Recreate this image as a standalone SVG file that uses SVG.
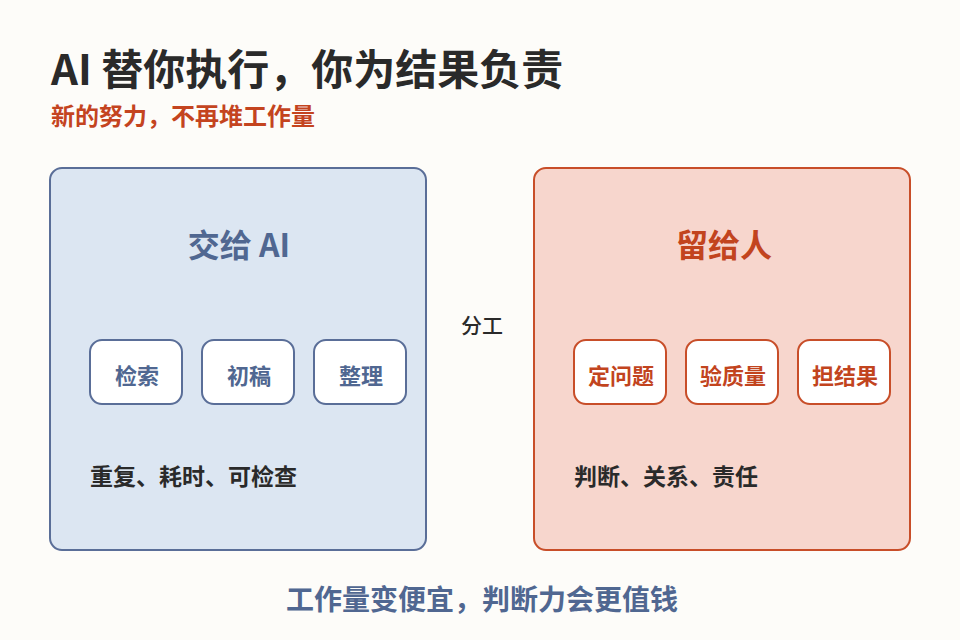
<svg xmlns="http://www.w3.org/2000/svg" width="960" height="640" viewBox="0 0 960 640">
<style>
text{font-family:"Noto Sans CJK SC","Noto Sans",sans-serif;}
.title{font-size:42px;font-weight:700;fill:#2a2a2a;}
.sub{font-size:24px;font-weight:700;fill:#c4441f;}
.panelA{fill:#dce6f2;stroke:#5a6e98;stroke-width:2;}
.panelB{fill:#f7d6cd;stroke:#c84e29;stroke-width:2;}
.itemA{fill:#ffffff;stroke:#5a6e98;stroke-width:2;}
.itemB{fill:#ffffff;stroke:#c84e29;stroke-width:2;}
.hA{font-size:32px;font-weight:700;fill:#506791;text-anchor:middle;}
.hB{font-size:32px;font-weight:700;fill:#c2441e;text-anchor:middle;}
.tA{font-size:22px;font-weight:700;fill:#506791;text-anchor:middle;}
.tB{font-size:22px;font-weight:700;fill:#c2441e;text-anchor:middle;}
.note{font-size:23px;font-weight:700;fill:#2a2a2a;}
.mid{font-size:21px;font-weight:500;fill:#2a2a2a;text-anchor:middle;}
.foot{font-size:28px;font-weight:700;fill:#506791;text-anchor:middle;}
</style>
<rect width="960" height="640" fill="#fdfcf9"/>
<text class="title" x="51" y="85">AI 替你执行，你为结果负责</text>
<text class="sub" x="51" y="125">新的努力，不再堆工作量</text>
<g id="panel-ai">
<rect class="panelA" x="50" y="168" width="376" height="382" rx="12"/>
<text class="hA" x="239" y="257">交给 AI</text>
<text class="note" x="90" y="485">重复、耗时、可检查</text>
</g>
<g id="ai-search"><rect class="itemA" x="90" y="340" width="92" height="64" rx="12"/><text class="tA" x="137" y="384">检索</text></g>
<g id="ai-draft"><rect class="itemA" x="202" y="340" width="92" height="64" rx="12"/><text class="tA" x="249" y="384">初稿</text></g>
<g id="ai-organize"><rect class="itemA" x="314" y="340" width="92" height="64" rx="12"/><text class="tA" x="361" y="384">整理</text></g>
<g id="panel-human">
<rect class="panelB" x="534" y="168" width="376" height="382" rx="12"/>
<text class="hB" x="724" y="257">留给人</text>
<text class="note" x="574" y="485">判断、关系、责任</text>
</g>
<g id="h-define"><rect class="itemB" x="574" y="340" width="92" height="64" rx="12"/><text class="tB" x="621" y="384">定问题</text></g>
<g id="h-verify"><rect class="itemB" x="686" y="340" width="92" height="64" rx="12"/><text class="tB" x="733" y="384">验质量</text></g>
<g id="h-own"><rect class="itemB" x="798" y="340" width="92" height="64" rx="12"/><text class="tB" x="845" y="384">担结果</text></g>
<g id="connectors">
<text class="mid" x="482" y="333">分工</text>
</g>
<text class="foot" x="482" y="610">工作量变便宜，判断力会更值钱</text>
</svg>
